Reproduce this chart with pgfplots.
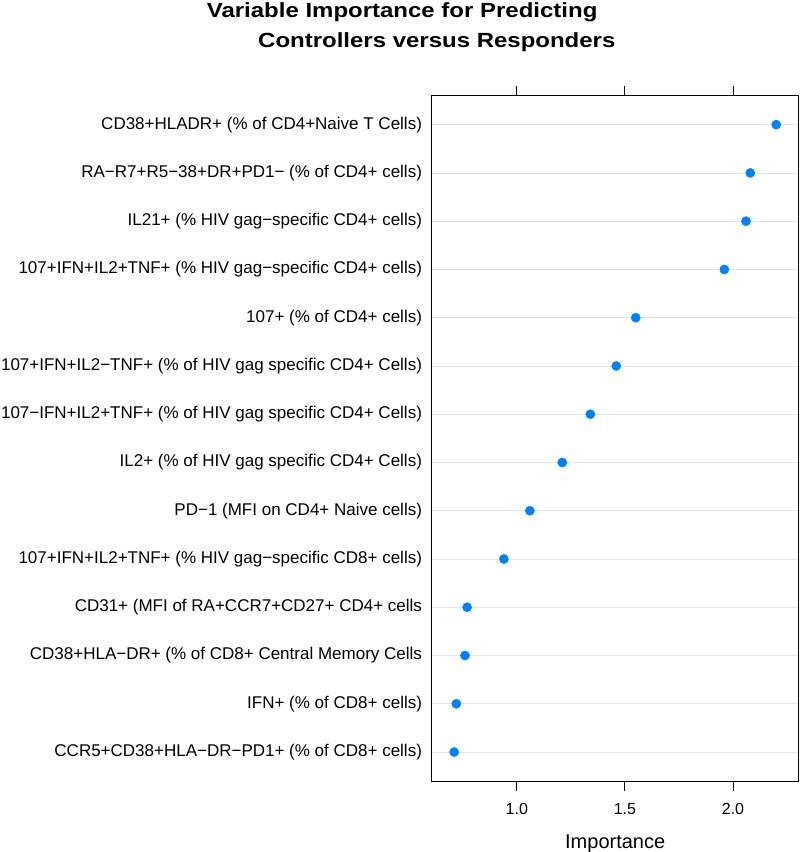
\documentclass[border=0pt]{standalone}
\usepackage{fontspec}
\setmainfont{Liberation Sans}
\usepackage{graphicx}
\usepackage{pgfplots}
\pgfplotsset{compat=1.18}
\definecolor{dotblue}{HTML}{0080FF}
\definecolor{gridgray}{HTML}{E6E6E6}
\begin{document}
\begin{tikzpicture}
\useasboundingbox (-431.7pt,-71pt) rectangle (368.3pt,781pt);
\begin{axis}[
  scale only axis,
  width=367pt, height=685.3pt,
  xmin=0.606, xmax=2.304,
  ymin=0.4, ymax=14.6,
  axis line style={line width=0.9pt, black},
  xtick={1,1.5,2},
  xtick pos=both,
  xticklabel pos=bottom,
  tick align=outside,
  major tick length=9.5pt,
  x tick style={line width=0.9pt, black},
  xticklabel style={font=\fontsize{16}{18}\selectfont, inner sep=0pt, yshift=-13pt},
  /pgf/number format/assume math mode=true,
  /pgf/number format/.cd, fixed, fixed zerofill, precision=1, /pgfplots/.cd,
  ytick={1,...,14},
  y tick style={draw=none},
  ymajorgrids,
  major grid style={gridgray, line width=0.8pt},
  yticklabel style={font=\fontsize{17}{20}\selectfont, inner sep=0pt, anchor=east},
  yticklabels={
    CCR5+CD38+HLA−DR−PD1+ (\% of CD8+ cells),
    IFN+ (\% of CD8+ cells),
    CD38+HLA−DR+ (\% of CD8+ Central Memory Cells,
    CD31+ (MFI of RA+CCR7+CD27+ CD4+ cells,
    107+IFN+IL2+TNF+ (\% HIV gag−specific CD8+ cells),
    PD−1 (MFI on CD4+ Naive cells),
    IL2+ (\% of HIV gag specific CD4+ Cells),
    107−IFN+IL2+TNF+ (\% of HIV gag specific CD4+ Cells),
    107+IFN+IL2−TNF+ (\% of HIV gag specific CD4+ Cells),
    107+ (\% of CD4+ cells),
    107+IFN+IL2+TNF+ (\% HIV gag−specific CD4+ cells),
    IL21+ (\% HIV gag−specific CD4+ cells),
    RA−R7+R5−38+DR+PD1− (\% of CD4+ cells),
    CD38+HLADR+ (\% of CD4+Naive T Cells)
  },
  xlabel={Importance},
  xlabel style={font=\fontsize{20}{24}\selectfont, at={(axis description cs:0.5,0)}, anchor=base, inner sep=0pt, yshift=-67pt},
]
\addplot[only marks, mark=*, mark size=4.6pt, color=dotblue, mark options={fill=dotblue, draw=dotblue}] coordinates {
  (0.71,1) (0.72,2) (0.76,3) (0.77,4) (0.94,5) (1.06,6) (1.21,7)
  (1.34,8) (1.46,9) (1.55,10) (1.96,11) (2.06,12) (2.08,13) (2.20,14)
};
\end{axis}
\node[anchor=base west, inner sep=0pt] at (-225pt,763.5pt) {\scalebox{1.17}[1]{\fontsize{20.5}{24}\selectfont\bfseries Variable Importance for Predicting}};
\node[anchor=base west, inner sep=0pt] at (-173.7pt,733.7pt) {\scalebox{1.17}[1]{\fontsize{20.5}{24}\selectfont\bfseries Controllers versus Responders}};
\end{tikzpicture}
\end{document}
